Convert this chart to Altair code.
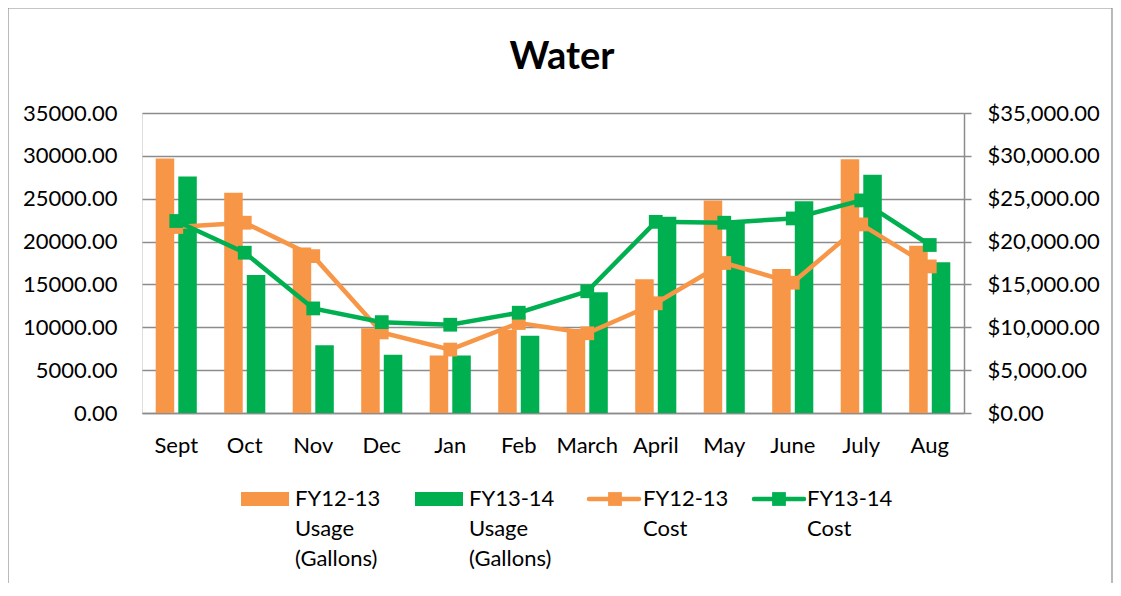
import altair as alt
import pandas as pd

months = ["Sept", "Oct", "Nov", "Dec", "Jan", "Feb", "March", "April", "May", "June", "July", "Aug"]
usage_fy1213 = [29700, 25700, 19300, 9900, 6700, 9700, 9800, 15600, 24800, 16800, 29600, 19500]
usage_fy1314 = [27600, 16100, 7900, 6800, 6700, 9000, 14100, 22900, 22300, 24700, 27800, 17600]
cost_fy1213 = [21700, 22200, 18300, 9400, 7400, 10500, 9300, 12800, 17500, 15200, 22000, 17100]
cost_fy1314 = [22400, 18700, 12200, 10600, 10300, 11700, 14200, 22300, 22200, 22700, 24800, 19600]
series = ["FY12-13", "FY13-14"]
legend_labels = ["FY12-13\nUsage\n(Gallons)", "FY13-14\nUsage\n(Gallons)", "FY12-13\nCost", "FY13-14\nCost"]
title_text = "Water"
tick_values = [0, 5000, 10000, 15000, 20000, 25000, 30000, 35000]

ORANGE = "#F79646"
GREEN = "#00B050"
GRID = "#8C8C8C"
FONT = "Lato"

usage_df = pd.DataFrame({
    "month": months * 2,
    "series": [series[0]] * 12 + [series[1]] * 12,
    "value": usage_fy1213 + usage_fy1314,
})
cost12 = pd.DataFrame({"month": months, "series": series[0], "value": cost_fy1213})
cost13 = pd.DataFrame({"month": months, "series": series[1], "value": cost_fy1314})

color_scale = alt.Scale(domain=series, range=[ORANGE, GREEN])
x_enc = alt.X(
    "month:N", sort=months, title=None,
    scale=alt.Scale(paddingInner=0.4, paddingOuter=0.2),
    axis=alt.Axis(labelAngle=0, labelFontSize=22, labelFont=FONT, labelColor="black",
                  domainColor=GRID, domainWidth=1.5, ticks=False, tickSize=0, labelPadding=22),
)
y_dom = alt.Scale(domain=[0, 35000], nice=False)

bars = alt.Chart(usage_df).mark_bar().encode(
    x=x_enc,
    xOffset=alt.XOffset("series:N", sort=series, scale=alt.Scale(paddingInner=0.18, paddingOuter=0)),
    y=alt.Y("value:Q", scale=y_dom, title=None,
            axis=alt.Axis(format=".2f", values=tick_values, grid=True, gridColor=GRID, gridWidth=1.4,
                          domain=False, ticks=False, tickSize=0, labelPadding=25,
                          labelFontSize=22, labelFont=FONT, labelColor="black")),
    color=alt.Color("series:N", scale=color_scale, legend=None),
)

right_axis = alt.Axis(format="$,.2f", values=tick_values, orient="right", grid=False,
                      domain=True, domainColor=GRID, domainWidth=1.5, ticks=True, tickSize=7,
                      tickColor=GRID, tickWidth=1.5, labelPadding=16,
                      labelFontSize=22, labelFont=FONT, labelColor="black")

def cost_layers(df):
    base = alt.Chart(df).encode(
        x=alt.X("month:N", sort=months),
        y=alt.Y("value:Q", scale=y_dom, title=None, axis=right_axis),
        color=alt.Color("series:N", scale=color_scale, legend=None),
    )
    return [base.mark_line(strokeWidth=4.5),
            base.mark_point(shape="square", filled=True, size=190, opacity=1)]

cost = alt.layer(*cost_layers(cost12), *cost_layers(cost13))

one = pd.DataFrame({"k": [0]})

def legend_text(label, x):
    return alt.Chart(pd.DataFrame({"label": [label]})).mark_text(
        align="left", baseline="alphabetic", lineBreak="\n", lineHeight=30,
        fontSize=22, font=FONT, color="black"
    ).encode(text="label:N", x=alt.value(x), y=alt.value(393))

leg = [
    alt.Chart(one).mark_rect(color=ORANGE).encode(x=alt.value(99), x2=alt.value(147), y=alt.value(379), y2=alt.value(393)),
    alt.Chart(one).mark_rect(color=GREEN).encode(x=alt.value(273), x2=alt.value(321), y=alt.value(379), y2=alt.value(393)),
    alt.Chart(one).mark_rule(color=ORANGE, strokeWidth=4.5, strokeCap="round").encode(x=alt.value(447), x2=alt.value(497), y=alt.value(386)),
    alt.Chart(one).mark_point(shape="square", filled=True, size=190, opacity=1, color=ORANGE).encode(x=alt.value(473), y=alt.value(386)),
    alt.Chart(one).mark_rule(color=GREEN, strokeWidth=4.5, strokeCap="round").encode(x=alt.value(612), x2=alt.value(662), y=alt.value(386)),
    alt.Chart(one).mark_point(shape="square", filled=True, size=190, opacity=1, color=GREEN).encode(x=alt.value(637), y=alt.value(386)),
    legend_text(legend_labels[0], 153),
    legend_text(legend_labels[1], 327),
    legend_text(legend_labels[2], 501),
    legend_text(legend_labels[3], 665),
]

title = alt.Chart(pd.DataFrame({"t": [title_text]})).mark_text(
    align="center", baseline="alphabetic", fontSize=38, font=FONT, fontWeight="bold", color="black"
).encode(text="t:N", x=alt.value(420), y=alt.value(-44))

border = alt.Chart(one).mark_rect(fill=None, stroke=GRID, strokeWidth=1.2).encode(
    x=alt.value(-134), x2=alt.value(970), y=alt.value(-105), y2=alt.value(500))

chart = alt.layer(bars, cost, *leg, title, border).resolve_scale(y="independent").properties(
    width=822, height=300,
    autosize=alt.AutoSizeParams(type="none"),
    padding={"left": 134, "top": 105, "right": 149, "bottom": 170},
).configure_view(stroke=None).configure(background="white")

chart.save("out.html", embed_options={"renderer": "svg", "actions": False})
